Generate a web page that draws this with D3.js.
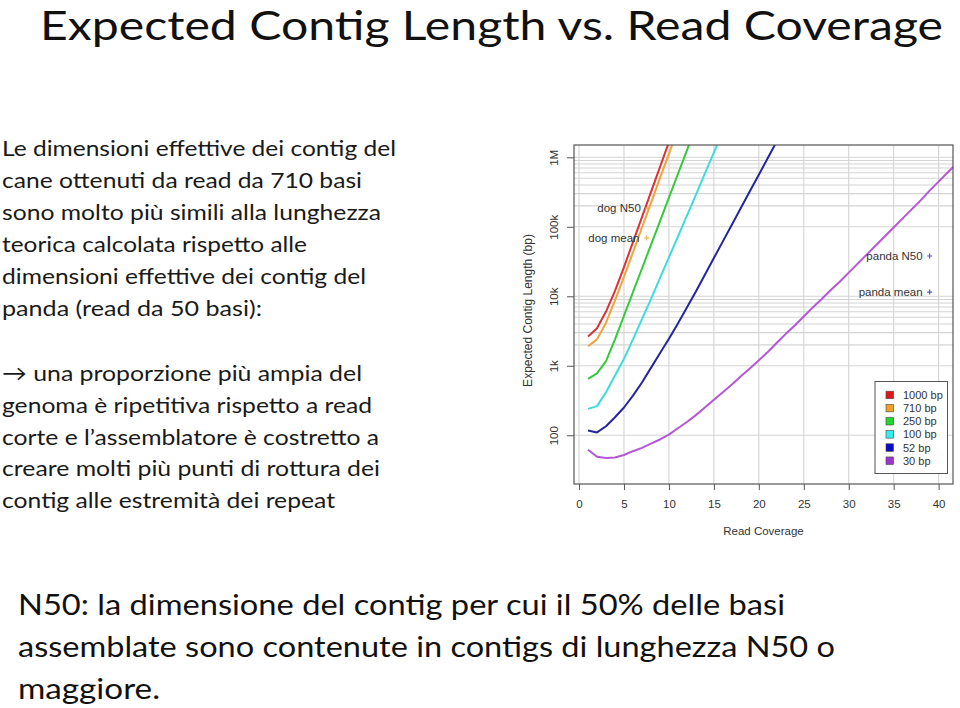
<!DOCTYPE html>
<html><head><meta charset="utf-8">
<script src="https://cdn.jsdelivr.net/npm/d3@7"></script>
<style>body{margin:0;background:#fff}svg{display:block}</style>
</head><body>
<svg id="c" width="960" height="708"></svg>
<script>
// ---------- data ----------
const titleText = "Expected Contig Length vs. Read Coverage";
const paraLines = [
  "Le dimensioni effettive dei contig del",
  "cane ottenuti da read da 710 basi",
  "sono molto più simili alla lunghezza",
  "teorica calcolata rispetto alle",
  "dimensioni effettive dei contig del",
  "panda (read da 50 basi):"
];
const bulletLines = [
  "\u2192 una proporzione più ampia del",
  "genoma è ripetitiva rispetto a read",
  "corte e l\u2019assemblatore è costretto a",
  "creare molti più punti di rottura dei",
  "contig alle estremità dei repeat"
];
const footLines = [
  "N50: la dimensione del contig per cui il 50% delle basi",
  "assemblate sono contenute in contigs di lunghezza N50 o",
  "maggiore."
];

const coverage = [1,2,3,4,5,6,7,8,9,10,11,12,13,14,15,16,17,18,19,20,21,22,23,24,25,26,27,28,29,30,31,32,33,34,35,36,37,38,39,40,41,42];
const seriesNames = ["1000 bp","710 bp","250 bp","100 bp","52 bp","30 bp"];
const len1000 = [2630,3470,6030,12000,26300,60300,138000,316000,724000,1660000];
const len710  = [1910,2400,4170,8710,19100,42700,97700,219000,501000,1120000,2570000];
const len250  = [646,776,1170,2400,5250,11500,25100,55000,120000,263000,575000,1260000,2750000];
const len100  = [240,263,417,724,1260,2400,4680,9120,18200,36300,72400,145000,288000,589000,1170000,2400000];
const len52   = [117,110,135,182,251,372,575,933,1510,2450,4070,6920,11700,20400,35500,61700,107000,186000,324000,562000,977000,1700000];
const len30   = [62,49,47,48,52,59,66,76,87,102,126,155,195,251,324,417,537,708,912,1200,1580,2140,2880,3800,5130,6920,9120,12300,16200,21900,29500,39800,53700,72400,97700,132000,178000,240000,331000,447000,603000,813000];

const xTicks = [0,5,10,15,20,25,30,35,40];
const yTickValues = [100,1000,10000,100000,1000000];
const yTickLabels = ["100","1k","10k","100k","1M"];
const minorGrid = [2000,3000,4000,5000,6000,7000,8000,9000,200000,300000,400000,500000,600000,700000,800000,900000];

const markLabels = ["dog N50","dog mean","panda N50","panda mean"];
const markX = [7.65,7.5,39,39];
const markY = [186000,69000,38000,11500];

// ---------- styles ----------
const lineColors = ["#d83434","#f3a23a","#35c93c","#3fdcdc","#25259c","#b457d6"];
const swatchColors = ["#e01515","#f2a126","#22d82a","#33eeee","#0a0acc","#9b35d0"];
const markColors = ["#f0b040","#f0b040","#5555cc","#5555cc"];

const svg = d3.select("#c");
const chartFont = "'Liberation Sans', Arial, sans-serif";
const slideFont = "Lato, 'Open Sans', sans-serif";

// ---------- slide text ----------
svg.append("text").attr("x",40).attr("y",39.5).attr("font-family",slideFont)
  .attr("font-size",40).attr("fill","#111").attr("textLength",903)
  .attr("lengthAdjust","spacingAndGlyphs").text(titleText);

const paraEnds = [396,362,381,307,366,262];
paraLines.forEach((t,i)=>{
  svg.append("text").attr("x",2).attr("y",156+i*32).attr("font-family",slideFont)
    .attr("font-size",22).attr("fill","#1a1a1a").attr("textLength",paraEnds[i]-2)
    .attr("lengthAdjust","spacingAndGlyphs").text(t);
});
const bulletEnds = [362,372,379,380,335];
bulletLines.forEach((t,i)=>{
  svg.append("text").attr("x",2).attr("y",381+i*31.8).attr("font-family",slideFont)
    .attr("font-size",22).attr("fill","#1a1a1a").attr("textLength",bulletEnds[i]-2)
    .attr("lengthAdjust","spacingAndGlyphs").text(t);
});
const footEnds = [785,835,160];
footLines.forEach((t,i)=>{
  svg.append("text").attr("x",18).attr("y",615+i*42).attr("font-family",slideFont)
    .attr("font-size",29).attr("fill","#111").attr("textLength",footEnds[i]-18)
    .attr("lengthAdjust","spacingAndGlyphs").text(t);
});

// ---------- chart ----------
const L=574, R=953, T=145, B=484;
const x = d3.scaleLinear().domain([-0.56,41.6]).range([L,R]);
const y = d3.scaleLog().domain([19.9,1503000]).range([B,T]);

const g = svg.append("g");
g.append("defs").append("clipPath").attr("id","clip")
  .append("rect").attr("x",L).attr("y",T).attr("width",R-L).attr("height",B-T);

// grid
const grid = g.append("g").attr("stroke","#d4d4d4").attr("stroke-width",1.1);
xTicks.forEach(v=>grid.append("line").attr("x1",x(v)).attr("x2",x(v)).attr("y1",T).attr("y2",B));
yTickValues.concat(minorGrid).forEach(v=>grid.append("line").attr("x1",L).attr("x2",R).attr("y1",y(v)).attr("y2",y(v)));

// curves
const allSeries = [len1000,len710,len250,len100,len52,len30];
const line = d3.line().x(d=>x(d[0])).y(d=>y(d[1]));
const curves = g.append("g").attr("clip-path","url(#clip)");
allSeries.forEach((s,i)=>{
  curves.append("path").attr("d",line(s.map((v,j)=>[coverage[j],v])))
    .attr("fill","none").attr("stroke",lineColors[i]).attr("stroke-width",2)
    .attr("stroke-linejoin","round");
});

// box
g.append("rect").attr("x",L).attr("y",T).attr("width",R-L).attr("height",B-T)
  .attr("fill","none").attr("stroke","#555").attr("stroke-width",1.2);

// x axis
const xa = g.append("g").attr("transform",`translate(0,${B})`)
  .call(d3.axisBottom(x).tickValues(xTicks).tickSize(6).tickPadding(10));
xa.select(".domain").remove();
xa.selectAll("line").attr("stroke","#555");
xa.selectAll("text").attr("font-family",chartFont).attr("font-size",11.5).attr("fill","#333");

// y axis
const ya = g.append("g").attr("transform",`translate(${L},0)`)
  .call(d3.axisLeft(y).tickValues(yTickValues).tickFormat((d,i)=>yTickLabels[i]).tickSize(7));
ya.select(".domain").remove();
ya.selectAll("line").attr("stroke","#555");
ya.selectAll("text").attr("font-family",chartFont).attr("font-size",11.5).attr("fill","#333")
  .attr("text-anchor","middle").attr("x",0).attr("dy",0)
  .attr("transform","translate(-20,0) rotate(-90)").attr("y",4);

// axis titles
g.append("text").attr("x",(L+R)/2).attr("y",535).attr("text-anchor","middle")
  .attr("font-family",chartFont).attr("font-size",11.5).attr("fill","#333").text("Read Coverage");
g.append("text").attr("transform",`translate(532,${(T+B)/2-4}) rotate(-90)`).attr("text-anchor","middle")
  .attr("font-family",chartFont).attr("font-size",12).attr("fill","#333").text("Expected Contig Length (bp)");

// markers
markLabels.forEach((t,i)=>{
  const px=x(markX[i]), py=y(markY[i]);
  g.append("path").attr("d",`M${px-2.5},${py}H${px+2.5}M${px},${py-2.5}V${py+2.5}`)
    .attr("stroke",markColors[i]).attr("stroke-width",1.2);
  g.append("text").attr("x",px-7).attr("y",py+4).attr("text-anchor","end")
    .attr("font-family",chartFont).attr("font-size",11.5).attr("fill","#333").text(t);
});

// legend
const lg = g.append("g");
lg.append("rect").attr("x",875).attr("y",381.5).attr("width",72.5).attr("height",92)
  .attr("fill","#fff").attr("stroke","#555").attr("stroke-width",1);
seriesNames.forEach((n,i)=>{
  const cy = 395+i*13.15;
  lg.append("rect").attr("x",886).attr("y",cy-3.8).attr("width",7.5).attr("height",7.5)
    .attr("fill",swatchColors[i]).attr("stroke","#444").attr("stroke-width",0.6);
  lg.append("text").attr("x",903).attr("y",cy+4).attr("font-family",chartFont)
    .attr("font-size",11).attr("fill","#333").text(n);
});
</script>
</body></html>
